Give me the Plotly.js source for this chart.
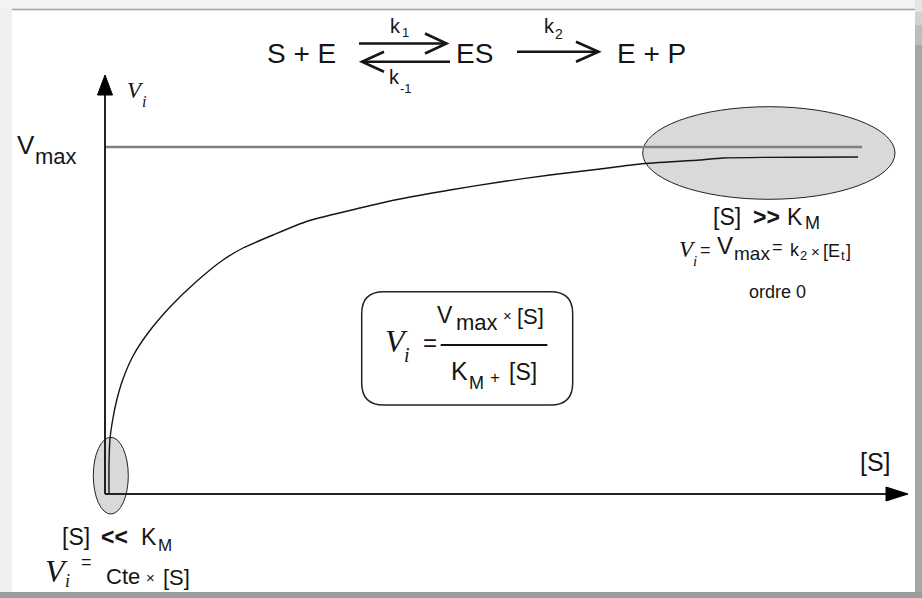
<!DOCTYPE html>
<html>
<head>
<meta charset="utf-8">
<script src="https://cdn.plot.ly/plotly-3.0.1.min.js"></script>
<style>
  html, body { margin: 0; padding: 0; background: #efefef; }
  #chart { width: 922px; height: 598px; }
</style>
</head>
<body>
<div id="chart"></div>
<script>
// Michaelis–Menten saturation curve: initial rate Vi against substrate [S]
const S  = [4, 4, 5, 8, 12, 18, 28, 43, 65, 92, 118, 138, 168, 203, 255, 295, 345, 395, 445, 495, 535, 595, 618, 753];
const Vi = [0, 30, 55, 76, 95, 115, 138, 161, 187, 213, 234, 246, 259, 273, 286, 295, 304, 312, 319, 325, 330, 334, 336, 337];
const VMAX = 347;          // plateau level
const S_END = 757;         // extent of the plateau line along [S]

const W = 922, H = 598;
const OX = 105, OY = 494;  // pixel position of the origin
const INK = '#151515';
const SANS = 'Liberation Sans, Arial, sans-serif';
const SERIF = 'Liberation Serif, Times New Roman, serif';

// pixel -> axis units
const dx = p => p - OX;
const dy = p => OY - p;

function lbl(px, py, text, size, family, extra) {
  return Object.assign({
    xref: 'paper', yref: 'paper', x: px / W, y: 1 - py / H,
    xanchor: 'left', yanchor: 'middle', text: text, showarrow: false,
    borderpad: 0, font: { family: family || SANS, size: size, color: INK }
  }, extra || {});
}

function path(points, close) {
  return points.map((p, i) => (i ? 'L' : 'M') + dx(p[0]) + ',' + dy(p[1])).join(' ') + (close ? ' Z' : '');
}

function rrect(x0, y0, x1, y1, r) {
  const P = (x, y) => dx(x) + ',' + dy(y);
  return 'M' + P(x0 + r, y0) + ' L' + P(x1 - r, y0) + ' Q' + P(x1, y0) + ' ' + P(x1, y0 + r) +
         ' L' + P(x1, y1 - r) + ' Q' + P(x1, y1) + ' ' + P(x1 - r, y1) +
         ' L' + P(x0 + r, y1) + ' Q' + P(x0, y1) + ' ' + P(x0, y1 - r) +
         ' L' + P(x0, y0 + r) + ' Q' + P(x0, y0) + ' ' + P(x0 + r, y0) + ' Z';
}

function rect(x0, y0, x1, y1, fill, layer) {
  return { type: 'rect', xref: 'x', yref: 'y', x0: dx(x0), x1: dx(x1), y0: dy(y1), y1: dy(y0),
           fillcolor: fill, line: { width: 0 }, layer: layer || 'below' };
}

function stroke(points, width, color) {
  return { type: 'path', xref: 'x', yref: 'y', path: path(points, false),
           line: { color: color || INK, width: width }, layer: 'above' };
}

const traces = [
  { x: [0, S_END], y: [VMAX, VMAX], mode: 'lines', line: { color: '#808080', width: 2.6 }, hoverinfo: 'skip' },
  { x: S, y: Vi, mode: 'lines', line: { color: INK, width: 1.4, shape: 'spline', smoothing: 0.6 }, hoverinfo: 'skip' }
];

const shapes = [
  // page frame
  rect(12, 9, 915, 592, '#ffffff'),
  rect(0, 0, 922, 9, '#f3f3f3'),
  rect(915, 0, 922, 12, '#e6e6e6'),
  rect(915, 12, 922, 25, '#d2d2d2'),
  rect(915, 25, 922, 45, '#bdbdbd'),
  rect(915, 45, 922, 592, '#a7a7a7'),
  rect(0, 592, 922, 598, '#9c9c9c'),
  { type: 'line', xref: 'x', yref: 'y', x0: dx(12), x1: dx(915), y0: dy(9.5), y1: dy(9.5),
    line: { color: '#a4a4a4', width: 1.5 }, layer: 'below' },
  // highlighted regions
  { type: 'circle', xref: 'x', yref: 'y', x0: dx(642.7), x1: dx(895), y0: dy(199.3), y1: dy(106.7),
    fillcolor: '#d9d9d9', line: { color: '#222', width: 1 }, layer: 'below' },
  { type: 'circle', xref: 'x', yref: 'y', x0: dx(93.3), x1: dx(128.3), y0: dy(514), y1: dy(437.3),
    fillcolor: '#d9d9d9', line: { color: '#222', width: 1 }, layer: 'below' },
  // axes with arrow heads
  stroke([[105, 494], [105, 92]], 2, '#222'),
  stroke([[105, 494], [888, 494]], 2, '#222'),
  { type: 'path', xref: 'x', yref: 'y', path: path([[105, 75], [97.5, 95], [112.5, 95]], true),
    fillcolor: '#000', line: { color: '#000', width: 1 }, layer: 'above' },
  { type: 'path', xref: 'x', yref: 'y', path: path([[908, 494], [886, 487], [886, 501]], true),
    fillcolor: '#000', line: { color: '#000', width: 1 }, layer: 'above' },
  // reaction scheme arrows
  stroke([[359, 43.5], [446, 43.5]], 2.6),
  stroke([[425, 33.5], [446.5, 43.5], [425, 53.5]], 2.6),
  stroke([[450, 61.7], [362, 61.7]], 2.6),
  stroke([[384, 51.7], [362, 61.7], [384, 71.7]], 2.6),
  stroke([[517, 51.7], [598, 51.7]], 2.6),
  stroke([[576, 41.7], [598.5, 51.7], [576, 61.7]], 2.6),
  // rate law box
  { type: 'path', xref: 'x', yref: 'y', path: rrect(361.7, 291.7, 572.7, 405, 22),
    line: { color: '#222', width: 1.5 }, layer: 'above' },
  stroke([[440.7, 345], [547.3, 345]], 2, '#111')
];

const IV = '<i>V</i>', II = '<i>i</i>';
const annotations = [
  // reaction scheme
  lbl(266, 53, 'S + E', 28),
  lbl(455, 53, 'ES', 28),
  lbl(616, 53, 'E + P', 28),
  lbl(389, 25.5, 'k', 20), lbl(401, 33, '1', 13),
  lbl(388, 77.5, 'k', 20), lbl(398.5, 88, '-1', 13),
  lbl(543, 25.5, 'k', 20), lbl(554, 33.5, '2', 14),
  // axis labels
  lbl(126, 90.5, IV, 23, SERIF), lbl(141, 101, II, 16, SERIF),
  lbl(16, 145, 'V', 26), lbl(34, 157, 'max', 22),
  lbl(859, 461.5, '[S]', 25),
  // saturation region
  lbl(712, 216.7, '[S]', 23),
  lbl(752, 216.7, '<b>&gt;&gt;</b>', 23),
  lbl(786, 216.7, 'K', 23), lbl(804, 223.5, 'M', 18),
  lbl(678, 249, IV, 23, SERIF), lbl(691.5, 261, II, 15, SERIF),
  lbl(698.5, 250, '=', 18),
  lbl(716, 246, 'V', 24), lbl(732.5, 253.5, 'max', 19),
  lbl(771, 247, '=', 18),
  lbl(789, 250, 'k', 18), lbl(799, 255.5, '2', 13),
  lbl(810, 252, '×', 15),
  lbl(822, 251, '[E', 18), lbl(840, 256, 't', 13), lbl(845, 251, ']', 18),
  lbl(777.5, 292, 'ordre 0', 18, SANS, { xanchor: 'center' }),
  // rate law
  lbl(384, 341, IV, 32, SERIF), lbl(403, 355, II, 20, SERIF),
  lbl(422, 343, '=', 24),
  lbl(436, 315, 'V', 23), lbl(454.5, 322.5, 'max', 22),
  lbl(502, 315, '×', 15),
  lbl(516, 316, '[S]', 22),
  lbl(450, 371, 'K', 25), lbl(467.5, 383, 'M', 18),
  lbl(489, 377, '+', 17),
  lbl(508, 372, '[S]', 23),
  // first-order region
  lbl(61, 537, '[S]', 23),
  lbl(100, 537, '<b>&lt;&lt;</b>', 23),
  lbl(140, 536.5, 'K', 23), lbl(156.5, 545, 'M', 17),
  lbl(44, 571, IV, 32, SERIF), lbl(64, 581, II, 18, SERIF),
  lbl(80, 562, '=', 18),
  lbl(105, 576, 'Cte', 22),
  lbl(145, 577, '×', 15),
  lbl(162, 577, '[S]', 22)
];

const layout = {
  width: W, height: H,
  margin: { l: 0, r: 0, t: 0, b: 0, pad: 0 },
  paper_bgcolor: '#efefef', plot_bgcolor: 'rgba(0,0,0,0)',
  showlegend: false,
  xaxis: { range: [dx(0), dx(W)], visible: false, fixedrange: true },
  yaxis: { range: [dy(H), dy(0)], visible: false, fixedrange: true },
  shapes: shapes,
  annotations: annotations
};

Plotly.newPlot('chart', traces, layout, { staticPlot: true, displayModeBar: false });
</script>
</body>
</html>
